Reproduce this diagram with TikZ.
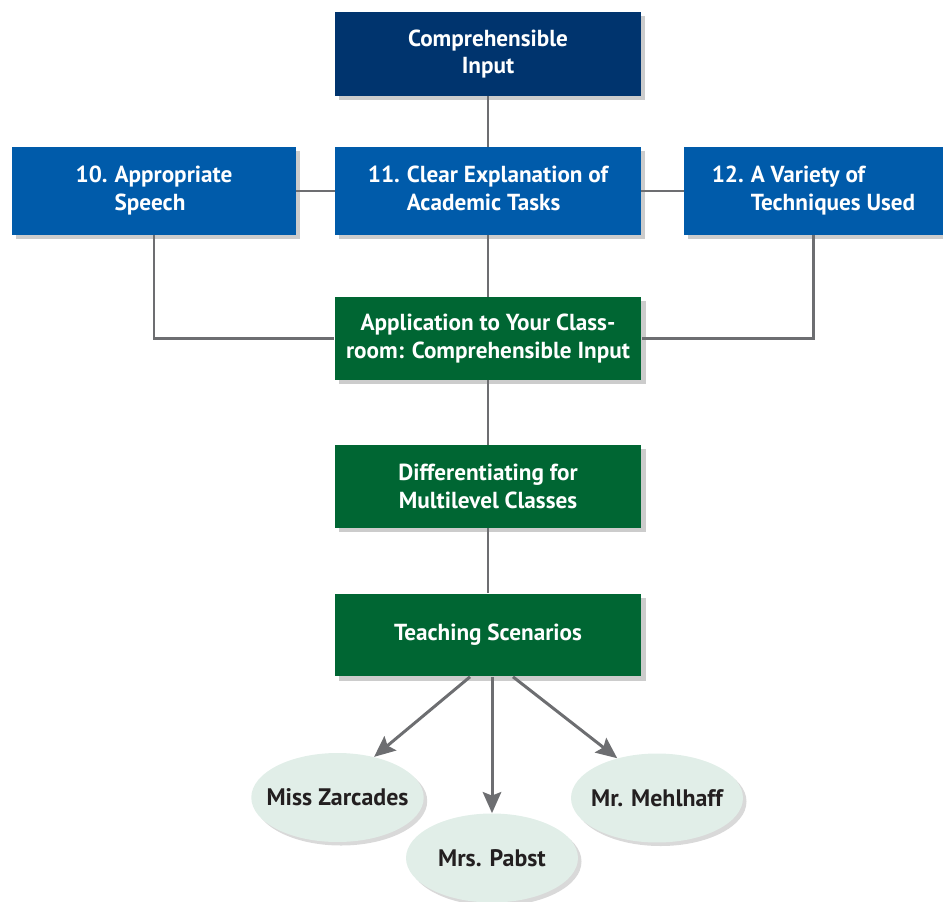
\documentclass[tikz,border=0pt]{standalone}
\usepackage{fontspec}
\setsansfont{PT Sans}
\usetikzlibrary{arrows.meta,positioning,shapes.geometric,shadows}
\definecolor{navy}{HTML}{00346E}
\definecolor{sblue}{HTML}{005BAA}
\definecolor{sgreen}{HTML}{006633}
\definecolor{mint}{HTML}{E1EEE8}
\definecolor{lgray}{HTML}{6D6E71}
\definecolor{ink}{HTML}{231F20}
\tikzset{
  box/.style={rectangle, text=white, inner sep=0pt, align=center,
    font=\sffamily\bfseries\fontsize{13.2}{15.6}\selectfont,
    drop shadow={shadow xshift=2.5pt, shadow yshift=-2.5pt, opacity=0.4}},
  topbox/.style={box, fill=navy, minimum width=6.12cm, minimum height=1.68cm},
  secbox/.style={box, fill=sblue, minimum height=1.76cm},
  appbox/.style={box, fill=sgreen, minimum width=6.14cm, minimum height=1.66cm},
  tnode/.style={ellipse, fill=mint, text=ink, inner xsep=-0.2cm, inner ysep=0pt,
    minimum width=3.44cm, minimum height=1.78cm,
    font=\sffamily\bfseries\fontsize{13.6}{15}\selectfont,
    drop shadow={shadow xshift=2pt, shadow yshift=-2pt, opacity=0.3}},
  link/.style={draw=lgray, line width=1.3pt},
  arr/.style={draw=lgray, line width=1.7pt, -{Stealth[length=12pt, width=10.5pt, inset=2pt]}},
}
\newcommand{\numtxt}[3]{\begin{tabular}{@{}l@{\hspace{0.3em}}l@{}}#1 & #2\\ & #3\end{tabular}}

\begin{document}
\begin{tikzpicture}[x=0.02cm, y=-0.02cm]
  \useasboundingbox (0,0) rectangle (943,902);

  % --- Top row ---
  \node[topbox] (ci) at (488,54) {Comprehensible\\Input};
  \node[secbox, minimum width=5.68cm] (s10) at (154,191) {\numtxt{10.}{Appropriate}{Speech}};
  \node[secbox, minimum width=6.12cm] (s11) at (488,191) {\numtxt{11.}{Clear Explanation of}{Academic Tasks}};
  \node[secbox, minimum width=5.18cm] (s12) at (813.5,191) {\numtxt{12.}{A Variety of}{Techniques Used}};

  % --- Green boxes ---
  \node[appbox] (app) at (488,338.5) {Application to Your Class-\\room: Comprehensible Input};
  \node[appbox] (diff) at (488,486.5) {Differentiating for\\Multilevel Classes};
  \node[appbox] (ts) at (488,635) {Teaching Scenarios};

  % --- Scenarios ---
  \node[tnode] (mz) at (337.5,797.5) {Miss Zarcades};
  \node[tnode] (mp) at (492,858) {Mrs. Pabst};
  \node[tnode] (mm) at (657,798) {Mr. Mehlhaff};

  % Connectors
  \draw[link] (ci) -- (s11);
  \draw[link] (s10) -- (s11);
  \draw[link] (s11) -- (s12);
  \draw[link] (s11) -- (app);
  \draw[link] (s10.south) |- (app.west);
  \draw[link] (s12.south) |- (app.east);
  \draw[link] (app) -- (diff);
  \draw[link] (diff) -- (ts);

  % Arrows to the scenarios
  \draw[arr] ([xshift=-0.36cm]ts.south) -- (mz.48);
  \draw[arr] (mp |- ts.south) -- (mp);
  \draw[arr] ([xshift=0.5cm]ts.south) -- (mm.135);
\end{tikzpicture}
\end{document}
